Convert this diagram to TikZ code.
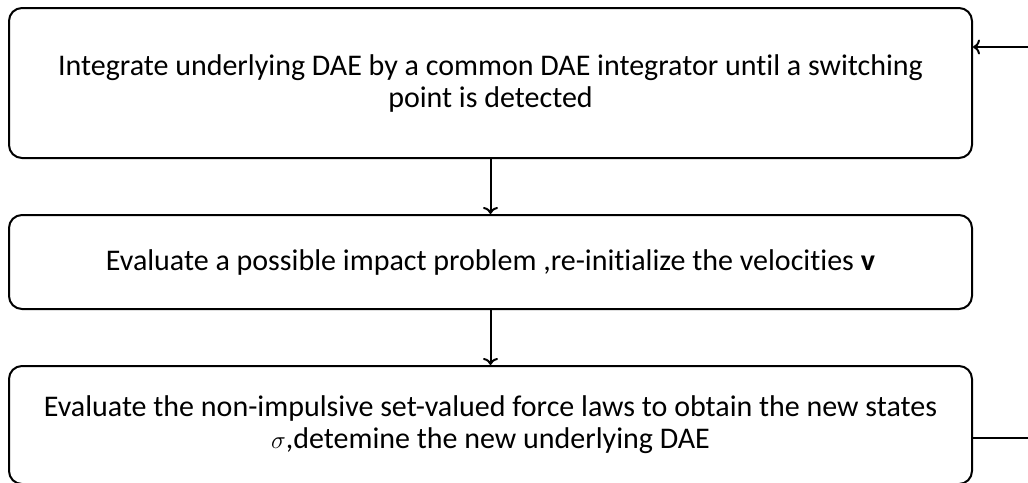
\documentclass[tikz,border=0pt]{standalone}
\usepackage{fontspec}
\setmainfont{Carlito}[Ligatures=NoCommon]
\usetikzlibrary{positioning,arrows.meta}

\begin{document}
\begin{tikzpicture}[x=1pt,y=-1pt,line width=2pt,
    stepbox/.style={draw,rounded corners=13pt,minimum width=963pt,inner sep=0pt,
        align=center,font=\fontsize{30}{32}\selectfont},
    flow/.style={-{To[length=7pt,width=15pt]}}]
    \useasboundingbox (0,0) rectangle (1028,482);
    % the three steps
    \node[stepbox,minimum height=150pt] (integ) at (490.5,83)
        {Integrate underlying DAE by a common DAE integrator until a switching\\point is detected};
    \node[stepbox,minimum height=94pt,below=55pt of integ] (impact)
        {Evaluate a possible impact problem ,re-initialize the velocities \textbf{v}};
    \node[stepbox,minimum height=118pt,below=55pt of impact] (force)
        {Evaluate the non-impulsive set-valued force laws to obtain the new states\\$\sigma$,detemine the new underlying DAE};
    % loop back on the right
    \coordinate (loopin) at (1028,47);
    \coordinate (loopout) at (1028,438);
    \draw[flow] (integ) -- (impact);
    \draw[flow] (impact) -- (force);
    \draw[flow] (loopin) -- (loopin -| integ.east);
    \draw (force.east |- loopout) -- (loopout);
\end{tikzpicture}
\end{document}
